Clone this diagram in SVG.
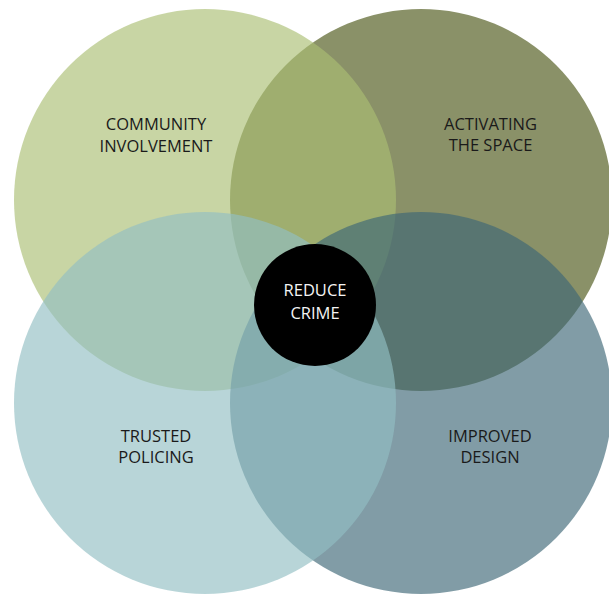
<svg xmlns="http://www.w3.org/2000/svg" width="609" height="594" viewBox="0 0 609 594">
  <style>
    .lbl { font-family: "Open Sans", "Noto Sans", "DejaVu Sans", sans-serif; font-size: 16.5px; fill: #1a1a1a; text-anchor: middle; }
    .ctr { font-family: "Open Sans", "Noto Sans", "DejaVu Sans", sans-serif; font-size: 16.5px; fill: #f4f4f4; text-anchor: middle; }
    .ov { fill-opacity: 0.65; }
  </style>
  <rect x="0" y="0" width="609" height="594" fill="#ffffff"/>
  <g id="activating-the-space">
    <circle cx="421" cy="200" r="191" fill="#8a9168"/>
    <text class="lbl" x="490.5" y="130">ACTIVATING</text>
    <text class="lbl" x="490.5" y="151">THE SPACE</text>
  </g>
  <g id="community-involvement">
    <circle class="ov" cx="205" cy="200" r="191" fill="#aabe73"/>
    <text class="lbl" x="156" y="130">COMMUNITY</text>
    <text class="lbl" x="156" y="151.5">INVOLVEMENT</text>
  </g>
  <g id="improved-design">
    <circle class="ov" cx="421" cy="403" r="191" fill="#3d6776"/>
    <text class="lbl" x="490" y="441.5">IMPROVED</text>
    <text class="lbl" x="490" y="463">DESIGN</text>
  </g>
  <g id="trusted-policing">
    <circle class="ov" cx="205" cy="403" r="191" fill="#92bec3"/>
    <text class="lbl" x="156" y="441.5">TRUSTED</text>
    <text class="lbl" x="156" y="463">POLICING</text>
  </g>
  <g id="reduce-crime">
    <circle cx="315" cy="305" r="61" fill="#000000"/>
    <text class="ctr" x="315" y="296">REDUCE</text>
    <text class="ctr" x="315" y="318.5">CRIME</text>
  </g>
</svg>
